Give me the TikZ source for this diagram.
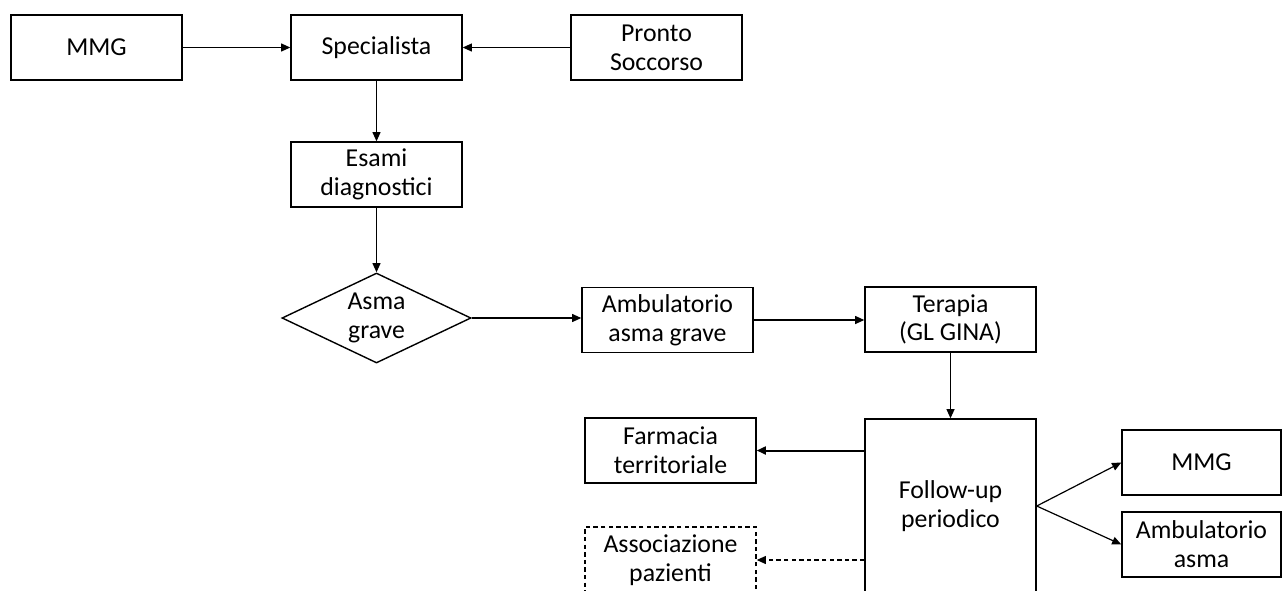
\documentclass[tikz,border=0pt]{standalone}
\usepackage{fontspec}
\setmainfont{Carlito}
\usetikzlibrary{shapes.geometric,arrows.meta}

\begin{document}
\begin{tikzpicture}[x=0.5pt,y=-0.5pt]
\tikzstyle{every node}+=[font=\fontsize{12.9}{14.4}\selectfont, align=center, inner sep=0pt]
\tikzstyle{box}=[draw, black, line width=0.7pt, minimum width=85.5pt, minimum height=32.5pt]
\tikzstyle{optional}=[dash pattern=on 2.2pt off 1.6pt]
\tikzstyle{link}=[line width=0.6pt, -{Triangle[length=4.6pt,width=4pt]}]
\useasboundingbox (0,0) rectangle (1283,590);
\clip (0,0) rectangle (1283,590);
\node[box] (mmg) at (96.5,47.5) {MMG};
\node[box] (spec) at (376.5,47.5) {Specialista};
\node[box] (ps) at (656.5,47.5) {Pronto\\Soccorso};
\node[box] (esami) at (376.5,174.5) {Esami\\diagnostici};
\node[draw, diamond, line width=0.7pt, aspect=2.1, minimum width=94.5pt, minimum height=45pt] (asma) at (376.5,318) {Asma\\grave};
\node[box] (ambgr) at (667.5,320) {Ambulatorio\\asma grave};
\node[box] (terapia) at (950.5,319.5) {Terapia\\(GL GINA)};
\node[box, minimum height=87pt] (follow) at (950.5,506) {Follow-up\\periodico};
\node[box] (farm) at (670.5,450.5) {Farmacia\\territoriale};
\node[box, optional, minimum height=33pt] (assoc) at (670.5,560) {Associazione\\pazienti};
\node[box, minimum width=79.5pt] (mmgr) at (1201.5,462.5) {MMG};
\node[box, minimum width=79.5pt] (ambas) at (1201.5,544.5) {Ambulatorio\\asma};
% accesso
\draw[link] (mmg) -- (spec);
\draw[link] (ps) -- (spec);
\draw[link] (spec) -- (esami);
\draw[link] (esami) -- (asma);
\draw[link] (asma.east) -- (asma.east -| ambgr.west);
\draw[link] (ambgr.east) -- (ambgr.east -| terapia.west);
\draw[link] (terapia) -- (follow);
% follow-up
\draw[link, line width=1pt] (farm.east -| follow.west) -- (farm.east);
\draw[link, optional] (assoc.east -| follow.west) -- (assoc.east);
\draw[link] (follow.east) -- (mmgr.west);
\draw[link] (follow.east) -- (ambas.west);
\end{tikzpicture}
\end{document}
